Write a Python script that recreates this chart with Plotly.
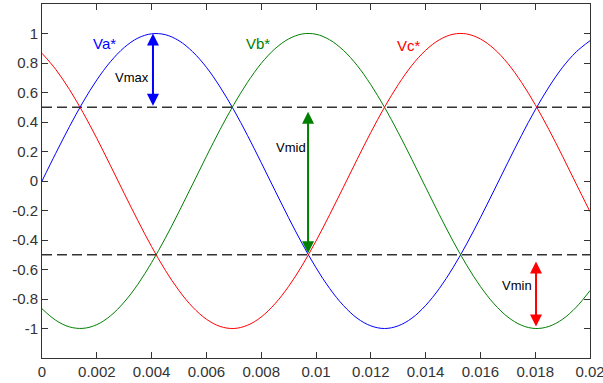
import plotly.graph_objects as go

# time samples (s)
t = [i * 0.0005 for i in range(41)]

# three-phase reference voltages (per unit)
va = [0.000, 0.187, 0.368, 0.536, 0.685, 0.809, 0.905, 0.969, 0.998, 0.992,
      0.951, 0.876, 0.771, 0.637, 0.482, 0.309, 0.125, -0.063, -0.249, -0.426,
      -0.588, -0.729, -0.844, -0.930, -0.982, -1.000, -0.982, -0.930, -0.844, -0.729,
      -0.588, -0.426, -0.249, -0.063, 0.125, 0.309, 0.482, 0.637, 0.771, 0.876, 0.951]
vb = [-0.866, -0.944, -0.989, -0.999, -0.974, -0.914, -0.821, -0.700, -0.553, -0.388,
      -0.208, -0.021, 0.167, 0.349, 0.518, 0.669, 0.797, 0.896, 0.963, 0.997,
      0.995, 0.957, 0.886, 0.784, 0.653, 0.500, 0.329, 0.146, -0.042, -0.228,
      -0.407, -0.571, -0.715, -0.833, -0.922, -0.978, -1.000, -0.986, -0.937, -0.855, -0.743]
vc = [0.866, 0.757, 0.621, 0.463, 0.289, 0.104, -0.084, -0.269, -0.445, -0.605,
      -0.743, -0.855, -0.937, -0.986, -1.000, -0.978, -0.922, -0.833, -0.715, -0.571,
      -0.407, -0.228, -0.042, 0.146, 0.329, 0.500, 0.653, 0.784, 0.886, 0.957,
      0.995, 0.997, 0.963, 0.896, 0.797, 0.669, 0.518, 0.349, 0.167, -0.021, -0.208]

# dashed levels
levels = [0.5, -0.5]

# tick labels
x_ticks = [0, 0.002, 0.004, 0.006, 0.008, 0.01, 0.012, 0.014, 0.016, 0.018, 0.02]
x_tick_text = ["0", "0.002", "0.004", "0.006", "0.008", "0.01", "0.012", "0.014", "0.016", "0.018", "0.02"]
y_ticks = [1, 0.8, 0.6, 0.4, 0.2, 0, -0.2, -0.4, -0.6, -0.8, -1]
y_tick_text = ["1", "0.8", "0.6", "0.4", "0.2", "0", "-0.2", "-0.4", "-0.6", "-0.8", "-1"]

# double arrows: (x, y_start, y_end, color)
arrows = [
    (0.00405, 0.50, 1.00, "#0000ff"),
    (0.00971, 0.48, -0.49, "#008000"),
    (0.01803, -0.536, -0.987, "#ff0000"),
]

# text labels: (text, x, y, color, size)
labels = [
    ("Va*", 0.00227, 0.93, "#0000ff", 15),
    ("Vb*", 0.00788, 0.93, "#008000", 15),
    ("Vc*", 0.01340, 0.92, "#ff0000", 15),
    ("Vmax", 0.00327, 0.70, "#000000", 13),
    ("Vmid", 0.00909, 0.23, "#000000", 13),
    ("Vmin", 0.01733, -0.71, "#000000", 13),
]

FONT = "Liberation Sans, Arial, sans-serif"

fig = go.Figure()

for lv in levels:
    fig.add_trace(go.Scatter(x=[0, 0.02], y=[lv, lv], mode="lines",
                             line=dict(color="#333333", width=1.5, dash="10px,5px"),
                             hoverinfo="skip", showlegend=False))

for y, c in [(va, "#0000ff"), (vb, "#008000"), (vc, "#ff0000")]:
    fig.add_trace(go.Scatter(x=t, y=y, mode="lines",
                             line=dict(color=c, width=1, shape="spline"),
                             showlegend=False))

for x, y0, y1, c in arrows:
    fig.add_annotation(x=x, y=y1, ax=x, ay=y0, xref="x", yref="y", axref="x", ayref="y",
                       text="", showarrow=True, arrowhead=2, arrowside="end+start",
                       arrowsize=1.2, arrowwidth=2, arrowcolor=c, standoff=0, startstandoff=0)

for txt, x, y, c, s in labels:
    fig.add_annotation(x=x, y=y, xref="x", yref="y", text=txt, showarrow=False,
                       font=dict(family=FONT, size=s, color=c))

axis_common = dict(showline=True, linecolor="#333333", linewidth=1, mirror="ticks",
                   ticks="inside", ticklen=6, tickcolor="#333333", showgrid=False,
                   zeroline=False, ticklabeloverflow="allow", automargin=False,
                   tickfont=dict(family=FONT, size=15, color="#333333"))

fig.update_xaxes(range=[0, 0.02], tickvals=x_ticks, ticktext=x_tick_text, **axis_common)
fig.update_yaxes(range=[-1.2, 1.2], tickvals=y_ticks, ticktext=y_tick_text, **axis_common)

fig.update_layout(width=603, height=383, margin=dict(l=42, r=13, t=4, b=25),
                  plot_bgcolor="white", paper_bgcolor="white", showlegend=False)

fig.write_html("out.html")
